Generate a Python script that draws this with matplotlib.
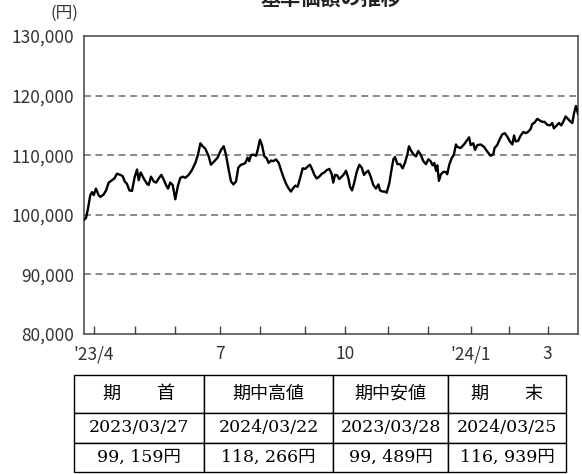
import matplotlib
matplotlib.use("Agg")
import matplotlib.pyplot as plt

plt.rcParams['font.family'] = ['Noto Sans CJK JP', 'DejaVu Sans']

# 営業日インデックス（2023/03/27 = 0 ... 2024/03/25 = 244）と基準価額（円）
days = [0, 1, 2, 3.1, 4.0, 4.8, 5.9, 7.2, 8.1, 9.7, 10.9, 12.2, 13.8, 15.0, 16.3, 17.9,
        19.1, 20.1, 21.2, 22.4, 23.7, 25.0, 26.2, 27.0, 28.0, 29.5, 31.1, 31.9, 33.1,
        34.4, 35.6, 36.9, 38.2, 39.4, 40.5, 41.5, 42.6, 43.8, 45.1, 46.4, 47.6, 48.8,
        50.0, 51.7, 53.3, 55.0, 56.3, 57.5, 58.6, 59.9, 61.6, 62.7, 64.4, 66.0, 67.7,
        69.0, 70.1, 71.5, 72.6, 73.8, 75.1, 76.2, 77.5, 78.7, 79.7, 80.8, 81.6, 82.5,
        83.6, 85.0, 85.8, 86.9, 87.9, 89.1, 90.2, 91.2, 92.4, 93.5, 94.8, 96.2, 97.3,
        98.4, 99.8, 101.1, 102.2, 103.4, 104.4, 105.5, 106.7, 108.0, 109.3, 110.5,
        111.6, 112.6, 113.8, 114.9, 116.2, 117.5, 118.7, 119.9, 121.2, 122.3, 123.1,
        124.0, 125.1, 126.1, 127.3, 128.4, 129.4, 130.6, 131.4, 132.4, 133.4, 134.7,
        136.0, 137.2, 138.3, 139.3, 140.4, 141.6, 142.9, 144.2, 145.4, 146.2, 147.5,
        148.7, 149.5, 150.8, 152.0, 152.8, 153.6, 154.8, 156.1, 157.4, 158.5, 159.7,
        160.5, 161.5, 162.6, 164.0, 165.1, 166.3, 167.6, 168.9, 170.1, 171.2, 172.2,
        173.0, 173.9, 174.5, 175.3, 176.3, 177.5, 178.6, 179.4, 180.4, 181.6, 182.7,
        183.7, 184.4, 186.0, 187.7, 190.2, 191.0, 192.3, 193.1, 194.3, 195.9, 197.6,
        199.2, 200.9, 202.2, 202.8, 204.1, 205.5, 206.6, 207.8, 209.1, 210.4, 211.6,
        212.4, 213.2, 214.4, 215.7, 217.0, 218.2, 219.3, 220.6, 221.4, 222.6, 223.9,
        225.2, 226.4, 227.5, 228.8, 230.2, 231.3, 232.1, 233.5, 234.6, 235.7, 236.7,
        237.9, 239.0, 240.4, 241.2, 242.0, 243, 244]
nav = [99159, 99489, 101100, 103300, 103800, 103300, 104400, 103300, 103000, 103400,
       104100, 105400, 105800, 106100, 106900, 106700, 106500, 105600, 105200, 104100,
       104000, 106300, 107600, 105800, 107100, 106100, 105200, 105000, 106400, 105600,
       105400, 106100, 106700, 105900, 105000, 104400, 105400, 105000, 102600, 104900,
       106200, 106400, 106200, 106700, 107500, 108700, 110100, 112000, 111500, 111100,
       109800, 108400, 109000, 109600, 110900, 111500, 110100, 107500, 105600, 105100,
       105600, 107900, 108400, 108500, 108700, 109600, 109000, 110000, 110100, 109900,
       110900, 112600, 111700, 109800, 109500, 108700, 109100, 109000, 109300, 108700,
       107500, 106400, 105200, 104400, 103900, 104500, 104900, 104700, 106100, 107800,
       107700, 108100, 108400, 107700, 106700, 106100, 106400, 106900, 107100, 107500,
       107700, 106900, 105400, 106700, 106600, 106000, 106400, 106800, 107400, 106100,
       104700, 104100, 105300, 107200, 108400, 107900, 106700, 107100, 107400, 106400,
       105000, 104400, 105100, 104100, 103900, 103900, 103700, 105300, 107800, 109300,
       109700, 108500, 108500, 107800, 108700, 110100, 111500, 110800, 110200, 109800,
       110700, 110100, 109000, 108500, 109300, 109000, 108300, 108700, 107400, 108300,
       105700, 106800, 107200, 107200, 106800, 108400, 109500, 110100, 111800, 111400,
       111200, 111800, 113000, 111700, 112000, 110900, 111700, 111800, 111400, 110600,
       109900, 110200, 111200, 111700, 112800, 113500, 113700, 113100, 112300, 111800,
       113300, 112300, 112400, 113300, 113900, 113700, 113900, 114400, 115200, 115500,
       116100, 115800, 115600, 115600, 115100, 115000, 115400, 114500, 115000, 115400,
       115000, 115600, 116500, 116100, 115600, 115400, 117000, 118266, 116939]

tick_days = [5, 25, 45, 67, 87, 109, 129, 150, 170, 191, 210, 229]
tick_labels = ["'23/4", "", "", "7", "", "", "10", "", "", "'24/1", "", "3"]
y_ticks = [80000, 90000, 100000, 110000, 120000, 130000]
grid_levels = [90000, 100000, 110000, 120000]

table_header = ["期　　首", "期中高値", "期中安値", "期　　末"]
table_dates = ["2023/03/27", "2024/03/22", "2023/03/28", "2024/03/25"]
table_values = ["99, 159円", "118, 266円", "99, 489円", "116, 939円"]

W, H = 582, 474
fig = plt.figure(figsize=(W / 100, H / 100), dpi=100)
ax = fig.add_axes([84 / W, 1 - 334 / H, 494 / W, 298 / H])

for g in grid_levels:
    ax.axhline(g, color="#808080", lw=1.3, dashes=(3.8, 2.6), zorder=1)
ax.plot(days, nav, color="black", lw=1.7, zorder=3)

ax.set_xlim(0, 244)
ax.set_ylim(80000, 130000)
ax.set_yticks(y_ticks)
ax.set_yticklabels([f"{v:,}" for v in y_ticks])
ax.set_xticks(tick_days)
ax.set_xticklabels(tick_labels)
ax.tick_params(axis="y", length=0, pad=7, labelsize=12.5, labelcolor="#333333")
ax.tick_params(axis="x", direction="in", length=6, width=1, color="#444444",
               pad=8, labelsize=12.5, labelcolor="#333333")
for sp in ax.spines.values():
    sp.set_color("#444444")
    sp.set_linewidth(1.1)

fig.text(78 / W, 1 - 13 / H, "(円)", ha="right", va="center", fontsize=12, color="#333333")
# タイトルは原図と同じく上端で切れている
fig.text(331 / W, 1 - 9 / H, "基準価額の推移", ha="center", va="bottom",
         fontsize=14.5, weight="bold", color="#222222")

# 期首・期中高値・期中安値・期末の表
tax = fig.add_axes([74 / W, 2 / H, 492 / W, 97 / H])
tax.axis("off")
col_widths = [130, 129, 115, 118]
row_heights = [38, 30, 29]
tbl = tax.table(cellText=[table_header, table_dates, table_values],
                colWidths=[w / sum(col_widths) for w in col_widths],
                cellLoc="center", bbox=[0, 0, 1, 1])
tbl.auto_set_font_size(False)
for (r, c), cell in tbl.get_celld().items():
    cell.set_edgecolor("black")
    cell.set_linewidth(1.0)
    cell.set_height(row_heights[r] / sum(row_heights))
    txt = cell.get_text()
    if r == 0:
        txt.set_fontfamily(["Noto Sans CJK JP"])
        txt.set_fontsize(13)
    else:
        txt.set_fontfamily(["DejaVu Serif", "Noto Sans CJK JP"])
        txt.set_fontsize(12.5)

fig.savefig("out.png", dpi=100)
